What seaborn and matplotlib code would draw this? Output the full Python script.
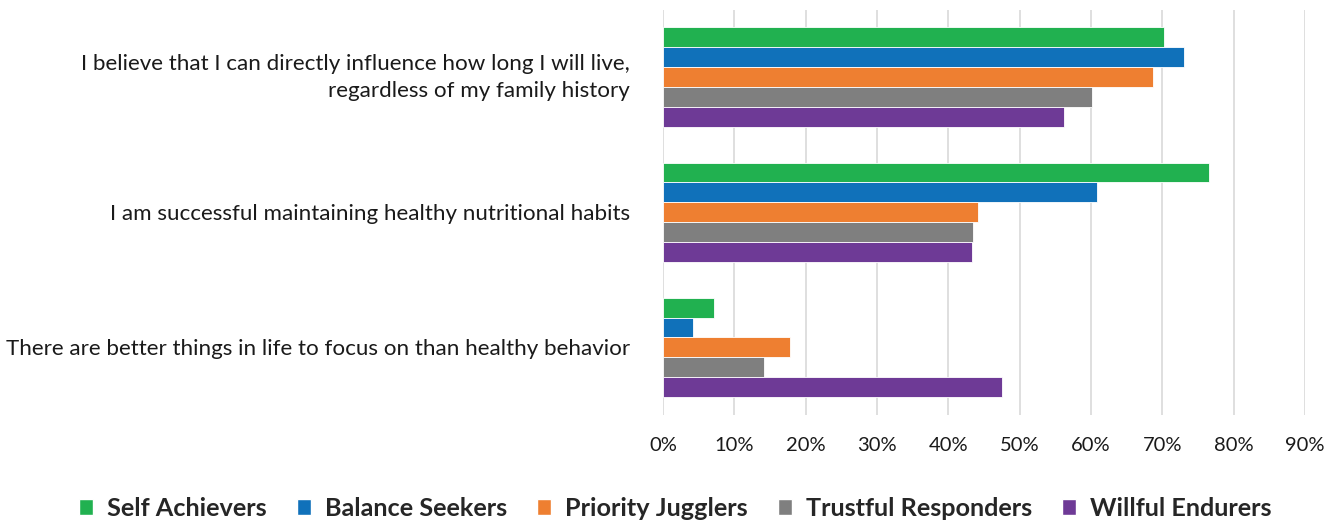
"""Grouped horizontal bar chart: health attitudes by segment."""

import matplotlib
matplotlib.use("Agg")
import matplotlib.pyplot as plt
import matplotlib.transforms as mtransforms
from matplotlib.patches import Patch
from matplotlib.ticker import PercentFormatter
import pandas as pd
import seaborn as sns

statements = [
    "I believe that I can directly influence how long I will live,\nregardless of my family history",
    "I am successful maintaining healthy nutritional habits",
    "There are better things in life to focus on than healthy behavior",
]
segments = ["Self Achievers", "Balance Seekers", "Priority Jugglers",
            "Trustful Responders", "Willful Endurers"]

self_achievers = [0.702, 0.765, 0.071]
balance_seekers = [0.731, 0.608, 0.042]
priority_jugglers = [0.687, 0.441, 0.178]
trustful_responders = [0.601, 0.434, 0.142]
willful_endurers = [0.562, 0.433, 0.475]

colors = ["#21B150", "#1071BA", "#EE7F31", "#7F7F7F", "#6E3A96"]

series = [self_achievers, balance_seekers, priority_jugglers,
          trustful_responders, willful_endurers]
rows = []
for seg, vals in zip(segments, series):
    for stmt, v in zip(statements, vals):
        rows.append({"statement": stmt, "segment": seg, "value": v})
df = pd.DataFrame(rows)

sns.set_style("white")
plt.rcParams["font.family"] = ["Lato", "DejaVu Sans"]

fig = plt.figure(figsize=(13.43, 5.23), dpi=100)
ax = fig.add_axes([0.4937, 0.2065, 0.478, 0.7745])

sns.barplot(
    data=df, y="statement", x="value", hue="segment",
    order=statements, hue_order=segments, palette=colors,
    orient="h", width=0.74, dodge=True, saturation=1,
    edgecolor="white", linewidth=0.6, legend=False, ax=ax,
)

ax.set_xlim(0, 0.9)
ax.set_xticks([i / 10 for i in range(10)])
ax.xaxis.set_major_formatter(PercentFormatter(1.0, decimals=0))
ax.grid(axis="x", color="#D9D9D9", linewidth=1.2)
ax.set_axisbelow(True)
for s in ax.spines.values():
    s.set_visible(False)
ax.tick_params(axis="both", length=0, colors="#1a1a1a")
ax.tick_params(axis="x", pad=16, labelsize=14.5)
ax.tick_params(axis="y", pad=24, labelsize=16.1)
for lbl in ax.get_yticklabels():
    lbl.set_linespacing(1.45)
    if "\n" in lbl.get_text():
        lbl.set_transform(lbl.get_transform() + mtransforms.ScaledTranslation(
            0, 4 / 72, fig.dpi_scale_trans))
ax.set_xlabel("")
ax.set_ylabel("")

handles = [Patch(facecolor=c, label=s) for c, s in zip(colors, segments)]
fig.legend(
    handles=handles, loc="center", bbox_to_anchor=(0.503, 0.028), ncol=5,
    frameon=False, handlelength=0.55, handleheight=0.55, handletextpad=0.55,
    columnspacing=1.2, prop={"weight": "bold", "size": 18.2},
)

fig.savefig("out.png", dpi=100)
plt.close(fig)
